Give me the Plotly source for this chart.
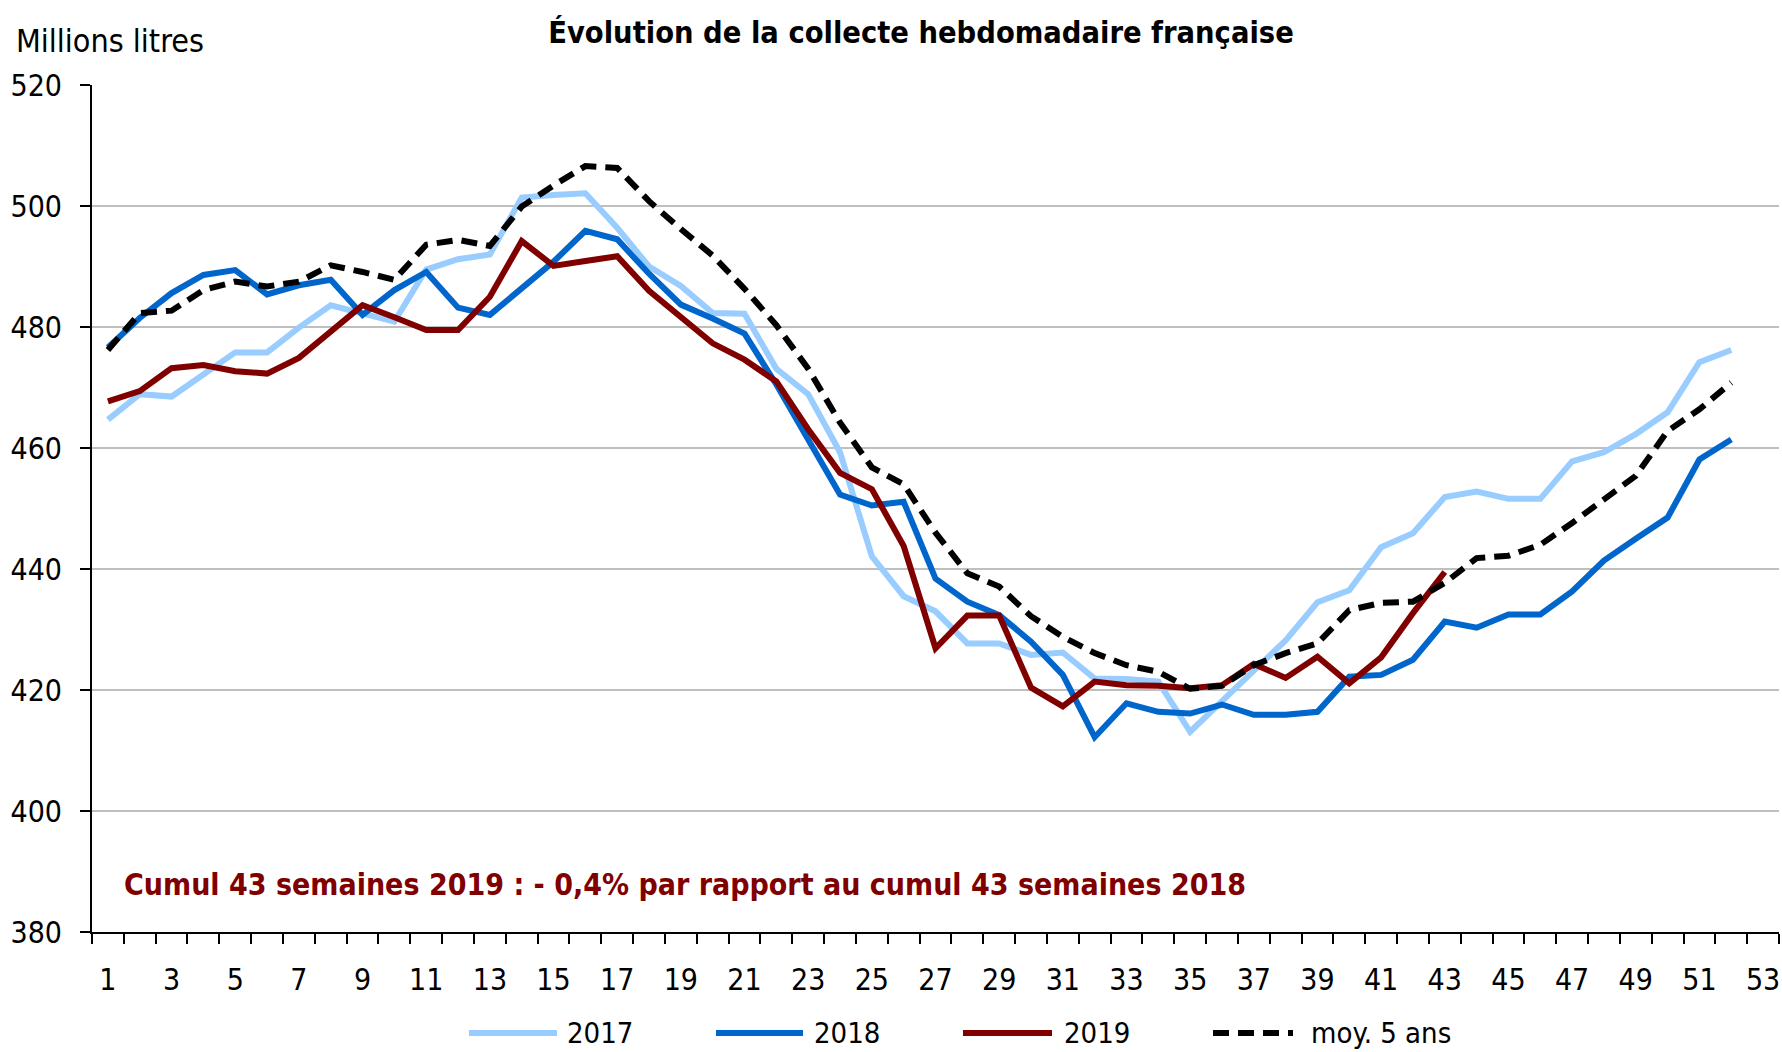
import plotly.graph_objects as go

weeks = list(range(1, 53))
weeks_2019 = list(range(1, 44))

y2017 = [464.7, 468.9, 468.5, 472.1, 475.8, 475.8, 479.9, 483.6, 482.3, 480.9,
         489.5, 491.2, 492.0, 501.4, 501.8, 502.1, 496.4, 490.0, 486.8, 482.3,
         482.2, 473.1, 468.9, 459.3, 442.1, 435.5, 433.0, 427.7, 427.7, 425.8,
         426.2, 421.9, 421.8, 421.4, 413.1, 418.3, 423.2, 428.2, 434.5, 436.5,
         443.6, 445.9, 451.9, 452.8, 451.6, 451.6, 457.8, 459.3, 462.3, 465.9,
         474.2, 476.2]

y2018 = [476.6, 481.5, 485.6, 488.6, 489.4, 485.4, 486.9, 487.8, 482.0, 486.1,
         489.1, 483.2, 482.0, 486.5, 490.8, 495.9, 494.5, 488.8, 483.7, 481.4,
         478.9, 470.5, 461.5, 452.3, 450.5, 451.1, 438.4, 434.6, 432.4, 428.0,
         422.5, 412.2, 417.8, 416.4, 416.1, 417.6, 415.9, 415.9, 416.4, 422.2,
         422.5, 425.0, 431.3, 430.3, 432.5, 432.5, 436.3, 441.4, 445.0, 448.5,
         458.1, 461.4]

y2019 = [467.7, 469.4, 473.2, 473.7, 472.7, 472.3, 474.9, 479.2, 483.6, 481.6,
         479.5, 479.5, 485.0, 494.2, 490.1, 490.9, 491.7, 486.0, 481.6, 477.3,
         474.6, 471.0, 463.1, 455.9, 453.2, 443.8, 426.9, 432.3, 432.3, 420.4,
         417.3, 421.4, 420.8, 420.7, 420.3, 420.8, 424.3, 422.0, 425.5, 421.1,
         425.4, 432.7, 439.5]

ymoy = [476.2, 482.3, 482.7, 486.1, 487.5, 486.7, 487.5, 490.2, 489.1, 487.8,
        493.6, 494.4, 493.4, 499.9, 503.4, 506.6, 506.3, 500.8, 496.2, 491.8,
        486.3, 480.3, 473.1, 464.2, 456.8, 454.0, 446.0, 439.3, 437.1, 432.2,
        428.8, 426.1, 424.1, 423.0, 420.2, 420.7, 424.1, 426.1, 427.7, 433.2,
        434.4, 434.6, 437.7, 441.8, 442.2, 444.0, 447.6, 451.5, 455.4, 462.8,
        466.4, 470.8]

x_tick_labels = [str(w) for w in range(1, 54, 2)]
y_ticks = [380, 400, 420, 440, 460, 480, 500, 520]

series = [
    ("2017", weeks, y2017, "#99CCFF", "solid"),
    ("2018", weeks, y2018, "#0066CC", "solid"),
    ("2019", weeks_2019, y2019, "#800000", "solid"),
    ("moy. 5 ans", weeks, ymoy, "#000000", "16px,9px"),
]

FONT = "DejaVu Sans Condensed, Liberation Sans Narrow, Arial Narrow, sans-serif"
LW = 6

fig = go.Figure()
for name, xs, ys, color, dash in series:
    fig.add_trace(go.Scatter(x=xs, y=ys, mode="lines", name=name,
                             line=dict(color=color, width=LW, dash=dash),
                             showlegend=False))

# plot area in pixels: x 92..1779, y 85..932
L, R, T, B = 92, 1779, 85, 932
W, H = R - L, B - T
def px(xp):
    return (xp - L) / W
def py(yp):
    return (B - yp) / H

# manual legend (wide line samples as in the reference)
legend_items = [
    (469, 557, 566),
    (716, 803, 813),
    (963, 1052, 1063),
    (1213, 1293, 1310),
]
ly = py(1033)
for (name, xs, ys, color, dash), (x0, x1, xt) in zip(series, legend_items):
    fig.add_shape(type="line", xref="paper", yref="paper",
                  x0=px(x0), x1=px(x1), y0=ly, y1=ly,
                  line=dict(color=color, width=LW, dash=dash))
    fig.add_annotation(xref="paper", yref="paper", x=px(xt), y=ly,
                       text=name, showarrow=False, xanchor="left", yanchor="middle",
                       borderpad=0,
                       font=dict(family=FONT, size=29, color="#000000"))

fig.add_annotation(xref="paper", yref="paper", x=px(14), y=py(41),
                   text="Millions litres", showarrow=False,
                   xanchor="left", yanchor="middle",
                   font=dict(family=FONT, size=32, color="#000000"))

fig.add_annotation(xref="paper", yref="paper", x=px(122), y=py(884),
                   text="<b>Cumul 43 semaines 2019 : - 0,4% par rapport au cumul 43 semaines 2018</b>",
                   showarrow=False, xanchor="left", yanchor="middle",
                   font=dict(family=FONT, size=30, color="#800000"))

fig.update_layout(
    width=1782, height=1052,
    margin=dict(l=L, r=1782 - R, t=T, b=1052 - B),
    paper_bgcolor="white", plot_bgcolor="white",
    title=dict(text="<b>Évolution de la collecte hebdomadaire française</b>",
               x=921 / 1782, xanchor="center", xref="container",
               y=1 - 32 / 1052, yanchor="middle", yref="container",
               font=dict(family=FONT, size=30.5, color="#000000")),
    font=dict(family=FONT, size=30, color="#000000"),
    showlegend=False,
)

fig.update_xaxes(
    range=[0.5, 53.5], tickmode="array",
    tickvals=list(range(1, 54, 2)), ticktext=x_tick_labels,
    ticks="", showgrid=False, zeroline=False,
    showline=True, linecolor="#000000", linewidth=2,
    tickfont=dict(family=FONT, size=30, color="#000000"),
    ticklabelstandoff=20,
    minor=dict(tick0=0.5, dtick=1, ticks="outside", ticklen=10,
               tickcolor="#000000", tickwidth=2, showgrid=False),
)
fig.update_yaxes(
    range=[380, 520], tickmode="array", tickvals=y_ticks,
    ticks="outside", ticklen=10, tickcolor="#000000", tickwidth=2,
    showgrid=True, gridcolor="#BFBFBF", gridwidth=2, zeroline=False,
    showline=True, linecolor="#000000", linewidth=2,
    tickfont=dict(family=FONT, size=30, color="#000000"),
    ticklabelstandoff=12,
)

fig.write_html(
    "out.html",
    config={"displayModeBar": False},
    post_script="document.body.style.margin='0';document.body.style.overflow='hidden';",
)
